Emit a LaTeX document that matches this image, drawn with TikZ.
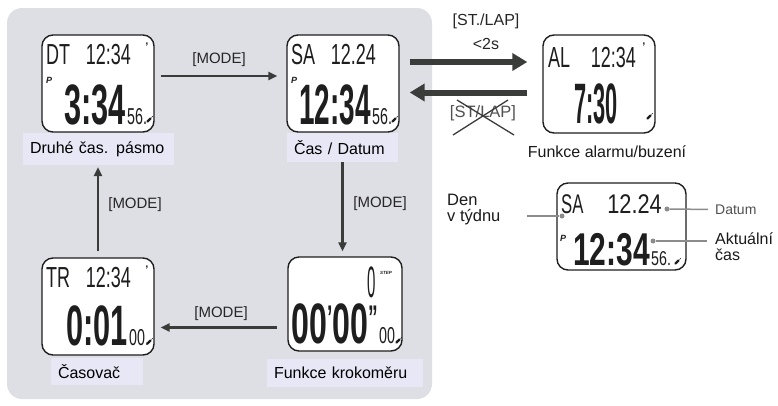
\documentclass[tikz,border=0pt]{standalone}
\usepackage{fontspec}
\usepackage{graphicx}
\setmainfont{Liberation Sans}
% condensed faces that stand in for the segment display
\newfontfamily\segfont[FakeStretch=0.62]{Liberation Sans}
\newfontfamily\segbold[FakeStretch=0.49]{Liberation Sans}
\usetikzlibrary{arrows.meta,calc}

\definecolor{panelbg}{RGB}{222,223,229}
\definecolor{tagbg}{RGB}{231,231,246}
\definecolor{arrowink}{RGB}{58,60,58}
\definecolor{lcdink}{RGB}{30,30,30}
\definecolor{leader}{RGB}{140,140,140}
\definecolor{softtext}{RGB}{80,80,80}

% small raised minute / second marks of the stopwatch readout
\newcommand\minmark{\raisebox{14pt}{\scalebox{0.6}{’}}}
\newcommand\secmark{\raisebox{14pt}{\scalebox{0.6}{”}}}

\begin{document}
\begin{tikzpicture}[x=1pt,y=-1pt,
  lcdbox/.style={draw=lcdink, line width=1.4pt, fill=white, rounded corners=11pt,
    minimum width=112pt, minimum height=97pt, inner sep=0pt},
  segtop/.style={font=\segfont\fontsize{29}{29}\selectfont, inner sep=0pt, text=lcdink},
  segbig/.style={font=\segbold\bfseries\fontsize{57}{57}\selectfont, inner sep=0pt, text=lcdink},
  segsec/.style={font=\segfont\fontsize{23}{23}\selectfont, inner sep=0pt, text=lcdink},
  pmark/.style={font=\bfseries\itshape\fontsize{9}{9}\selectfont, inner sep=0pt, text=lcdink},
  tick/.style={font=\bfseries\fontsize{11}{11}\selectfont, inner sep=0pt, text=lcdink},
  tag/.style={fill=tagbg, inner xsep=7pt, inner ysep=0pt, font=\fontsize{16}{19}\selectfont, align=left},
  keylabel/.style={font=\fontsize{15}{18}\selectfont, inner sep=0pt, text=black!85},
  caption/.style={font=\fontsize{16}{19}\selectfont, inner sep=0pt, text=black!90},
  mode arrow/.style={draw=arrowink, line width=2.3pt, -{Triangle[length=9pt,width=8pt]}},
  big arrow/.style={draw=arrowink, line width=6pt, -{Triangle[length=15pt,width=17pt]}},
  leaderline/.style={draw=leader, line width=1.5pt},
  leaderdot/.style={circle, fill=leader, inner sep=0pt, minimum size=5pt},
]
\useasboundingbox (0,0) rectangle (778,405);

% the grey panel holding the mode cycle
\fill[panelbg, rounded corners=15pt] (7,8) rectangle (432,399);

% small battery/signal glyph at the lower right of a display
\newcommand\sigglyph[1]{%
  \draw[lcdink, line width=2.2pt, line cap=round] ($(#1)+(-1.5,1.5)$) -- ($(#1)+(1.5,-1.5)$);
  \draw[lcdink, line width=0.5pt] ($(#1)+(2.6,-2.6)$) -- ($(#1)+(3.8,-3.8)$);}

% ---- second time zone
\begin{scope}[shift={(42,35)}]
  \node[lcdbox] (zone1) at (56,48.5) {};
  \node[segtop, anchor=base west] at (4,29) {DT};
  \node[segtop, anchor=base east] at (89,29) {12:34};
  \node[tick] at (105,12) {’};
  \node[pmark, anchor=base west] at (4,48) {P};
  \node[segbig, anchor=base east] at (84,89) {\scalebox{1.1}[1]{3:34}};
  \node[segsec, anchor=base west] at (85,89) {56.};
  \sigglyph{107,85}
\end{scope}
\node[tag, text width=137pt, minimum height=32pt] (tag1) at (98.5,149) {Druhé čas. pásmo};

% ---- time / date
\begin{scope}[shift={(287,35)}]
  \node[lcdbox] (zone2) at (56,48.5) {};
  \node[segtop, anchor=base west] at (4,29) {SA};
  \node[segtop, anchor=base east] at (89,29) {12.24};
  \node[pmark, anchor=base west] at (4,48) {P};
  \node[segbig, anchor=base east] at (84,89) {12:34};
  \node[segsec, anchor=base west] at (85,89) {56.};
  \sigglyph{107,85}
\end{scope}
\node[tag, text width=97pt, minimum height=29pt] (tag2) at (342.5,147.5) {Čas / Datum};

% ---- timer
\begin{scope}[shift={(42,258)}]
  \node[lcdbox] (zone3) at (56,48.5) {};
  \node[segtop, anchor=base west] at (4,29) {TR};
  \node[segtop, anchor=base east] at (89,29) {12:34};
  \node[tick] at (105,12) {’};
  \node[segbig, anchor=base east] at (86,87) {\scalebox{1.1}[1]{0:01}};
  \node[segsec, anchor=base west] at (87,87) {00.};
  \sigglyph{107,84}
\end{scope}
\node[tag, text width=78pt, minimum height=27pt] (tag3) at (97,371.5) {Časovač};

% ---- pedometer
\begin{scope}[shift={(288,257)}]
  \node[lcdbox, minimum width=114pt, minimum height=94pt] (zone4) at (57,47) {};
  \node[segtop, anchor=base east, font=\segfont\fontsize{44}{44}\selectfont] at (88,40) {\scalebox{0.55}[1]{0}};
  \node[pmark, anchor=base west, font=\bfseries\itshape\fontsize{4.5}{4.5}\selectfont] at (92,17) {STEP};
  \node[segbig, anchor=base east] at (90,86) {\scalebox{1.15}[1]{00\minmark00\secmark}};
  \node[segsec, anchor=base west] at (91,86) {00.};
  \sigglyph{110,84}
\end{scope}
\node[tag, text width=142pt, minimum height=28pt] (tag4) at (345,373) {Funkce krokoměru};

% ---- alarm
\begin{scope}[shift={(543,35)}]
  \node[lcdbox, minimum height=98pt] (alarm) at (56,49) {};
  \node[segtop, anchor=base west] at (5,32) {AL};
  \node[segtop, anchor=base east] at (93,32) {12:34};
  \node[tick] at (101,12) {’};
  \node[segbig, anchor=base] at (53,88) {\scalebox{0.78}[1]{7:30}};
  \sigglyph{106,82}
\end{scope}
\node[caption] (alarmcap) at (607,152) {Funkce alarmu/buzení};

% ---- MODE transitions
\draw[mode arrow, shorten <=6pt, shorten >=9pt] ([yshift=7.5pt]zone1.east) -- ([yshift=7.5pt]zone2.west);
\node[keylabel] at (219,60) {[MODE]};

\draw[mode arrow, shorten >=5pt] (tag2.south) -- (tag2.south |- zone4.north);
\node[keylabel] at (380,204) {[MODE]};

\coordinate (lowrow) at ([yshift=-23.5pt]zone4.west);
\draw[mode arrow, shorten <=10pt, shorten >=6pt] (lowrow) -- (lowrow -| zone3.east);
\node[keylabel] at (221,314) {[MODE]};

\draw[mode arrow, shorten <=6pt, shorten >=2pt] (zone3.north) -- (zone3.north |- tag1.south);
\node[keylabel] at (135,205) {[MODE]};

% ---- ST./LAP to the alarm and back
\coordinate (goal) at ([yshift=21.5pt]zone2.east);
\draw[big arrow, shorten <=10pt, shorten >=15pt] (goal) -- (goal -| alarm.west);
\coordinate (back) at ([yshift=-8.5pt]alarm.west);
\draw[big arrow, shorten <=15pt, shorten >=10pt] (back) -- (back -| zone2.east);

\node[keylabel, font=\fontsize{16}{18}\selectfont] at (486,21) {[ST./LAP]};
\node[keylabel, font=\fontsize{16}{18}\selectfont] at (486,44) {<2s};
\node[keylabel, text=softtext, font=\fontsize{16.5}{18}\selectfont] (nolap) at (483,113) {[ST/LAP]};
\draw[arrowink, line width=1.3pt] (453,135) -- (508,100);
\draw[arrowink, line width=1.3pt] (457,100) -- (514,135);

% ---- annotated display
\begin{scope}
  \node[lcdbox, minimum width=129pt, minimum height=87pt] (detail) at (621.5,226.5) {};
  \node[segtop, anchor=base west, font=\segfont\fontsize{27}{27}\selectfont] at (561,213) {SA};
  \node[segtop, anchor=base east, font=\segfont\fontsize{27}{27}\selectfont] at (662,213) {\scalebox{1.3}[1]{12.24}};
  \node[pmark, anchor=base west] at (560,241) {P};
  \node[segbig, anchor=base east, font=\segbold\bfseries\fontsize{46}{46}\selectfont] at (650,265) {\scalebox{1.33}[1]{12:34}};
  \node[segsec, anchor=base west, font=\segfont\fontsize{20}{20}\selectfont] at (651,265) {\scalebox{1.15}[1]{56.}};
  \sigglyph{677,262}
\end{scope}

\node[leaderdot] (daydot) at (562,216) {};
\node[leaderdot] (datedot) at (667,209) {};
\node[leaderdot] (timedot) at (653,241) {};

\node[caption, anchor=north west, align=left, font=\fontsize{16.5}{16}\selectfont] (daytext) at (447,194) {Den\\v týdnu};
\coordinate (dayend) at (527,216);
\draw[leaderline] (dayend) -- (daydot);

\node[caption, anchor=west, text=softtext, font=\fontsize{14}{16}\selectfont] (datetext) at (715,209.5) {Datum};
\draw[leaderline, shorten >=7pt] (datedot) -- (datetext.west);

\node[caption, anchor=north west, align=left, font=\fontsize{16}{16}\selectfont] (timetext) at (715,233) {Aktuální\\čas};
\coordinate (timeend) at (707,241);
\draw[leaderline] (timedot) -- (timeend);
\end{tikzpicture}
\end{document}
